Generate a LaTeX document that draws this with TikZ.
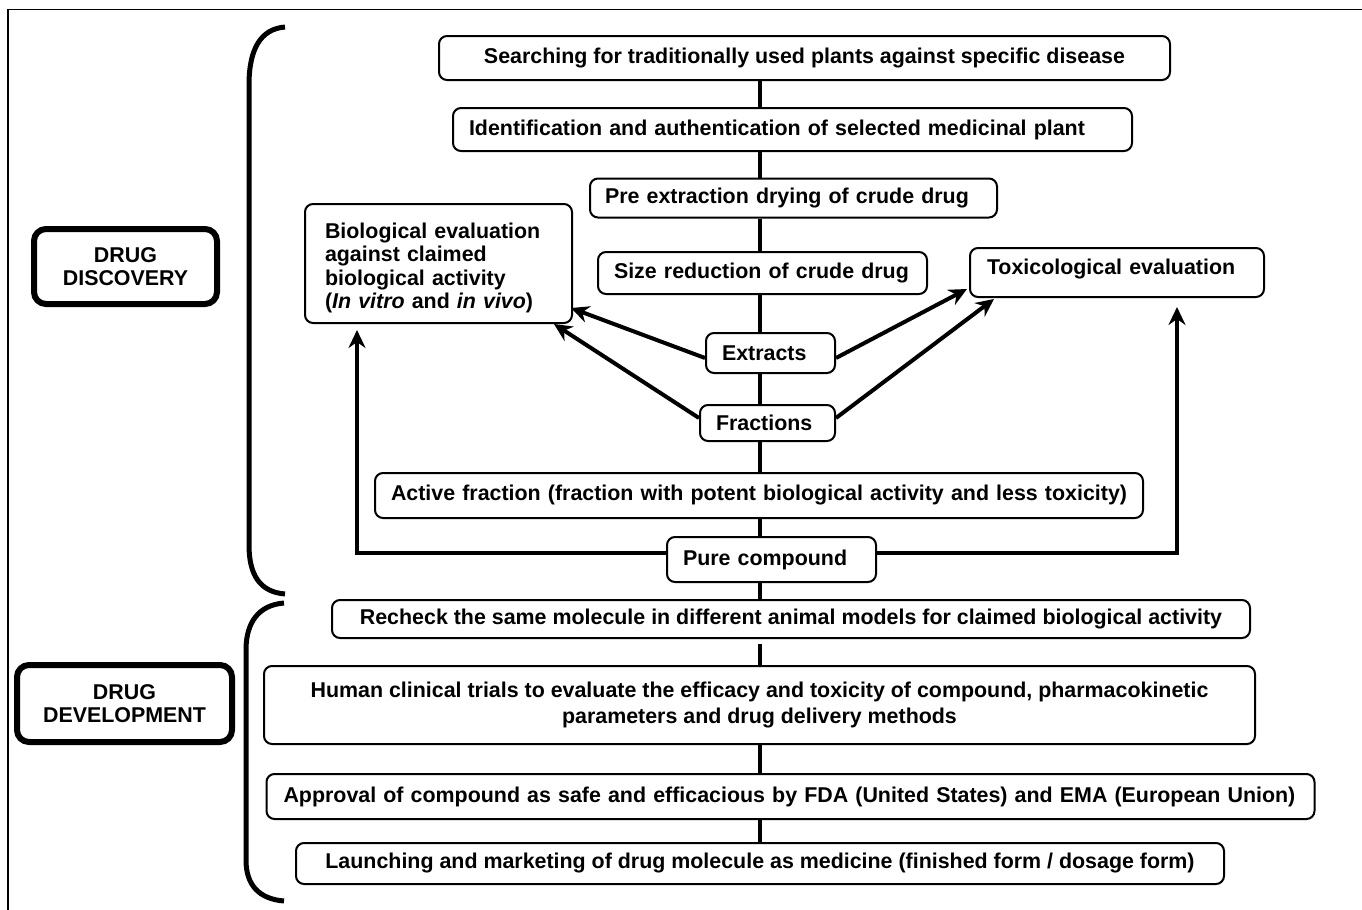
\documentclass[tikz,border=0pt]{standalone}
\usepackage{fontspec}
\setmainfont{Liberation Sans}
\usetikzlibrary{arrows.meta,calc}
\begin{document}
\begin{tikzpicture}[x=0.5pt,y=-0.5pt,
  font=\fontsize{10.7}{11.75}\selectfont\bfseries,
  box/.style={draw, line width=1pt, rounded corners=4pt, inner ysep=0pt, minimum height=#1},
  lbox/.style={box=#1, align=left},
  cbox/.style={box=#1, align=center, inner xsep=0pt},
  tbox/.style={draw, line width=3pt, rounded corners=6pt, align=center, inner sep=0pt},
  spine/.style={line width=1.7pt},
  arr/.style={line width=2pt, -{Stealth[length=9pt,width=8.5pt,inset=3pt]}},
  brace/.style={line width=2.5pt}]
\useasboundingbox (0,0) rectangle (1362,910);
% frame
\draw[line width=0.7pt] (8,910) -- (8,9.5) -- (1362,9.5);
% braces
\draw[brace] (285,27) .. controls (260,29) and (249,50) .. (249,85) -- (249,545) .. controls (249,575) and (260,592) .. (285,594);
\draw[brace] (284,603) .. controls (259,605) and (246,622) .. (246,650) -- (246,860) .. controls (246,885) and (259,899) .. (284,901);
% side labels
\node[tbox, minimum width=91.5pt, minimum height=37.5pt] (dd) at (125.5,266.5) {DRUG\\DISCOVERY};
\node[tbox, minimum width=107.5pt, minimum height=38.5pt] (dv) at (124.5,703.5) {DRUG\\DEVELOPMENT};
% main boxes
\node[cbox=22pt, minimum width=365.5pt] (s1) at (804.5,58) {Searching for traditionally used plants against specific disease};
\node[lbox=21.5pt, text width=323.5pt, inner xsep=8pt] (s2) at (792.5,129.5) {\mbox{Identification and authentication of selected medicinal plant}};
\node[lbox=19.5pt, text width=188.5pt, inner xsep=7.5pt] (s3) at (793.5,198) {\mbox{Pre extraction drying of crude drug}};
\node[lbox=21pt, text width=148.5pt, inner xsep=8pt] (s4) at (762.5,273) {\mbox{Size reduction of crude drug}};
\node[lbox=24.5pt, text width=130pt, inner xsep=8.5pt] (tox) at (1117,272.5) {\mbox{Toxicological evaluation}\rule[-6pt]{0pt}{0pt}};
\node[lbox=59.5pt, text width=113.5pt, inner xsep=10pt] (bio) at (438.5,263.5) {\rule{0pt}{12pt}Biological evaluation\\against claimed\\biological activity\\(\textit{In vitro} and \textit{in vivo})};
\node[lbox=20pt, text width=48.5pt, inner xsep=8pt] (ext) at (770.5,353) {\mbox{Extracts}};
\node[lbox=18pt, text width=51.5pt, inner xsep=8pt] (frac) at (767.5,423) {\mbox{Fractions}};
\node[lbox=22.5pt, text width=368pt, inner xsep=8pt] (act) at (759,495.5) {\mbox{Active fraction (fraction with potent biological activity and less toxicity)}};
\node[lbox=22.5pt, text width=88.5pt, inner xsep=8pt] (pure) at (771.5,559.5) {\mbox{Pure compound}};
\node[cbox=19pt, minimum width=459pt] (rech) at (791,619) {Recheck the same molecule in different animal models for claimed biological activity};
\node[cbox=39pt, minimum width=495.5pt, font=\fontsize{10.7}{13}\selectfont\bfseries] (hum) at (759.5,705) {Human clinical trials to evaluate the efficacy and toxicity of compound, pharmacokinetic\\parameters and drug delivery methods};
\node[lbox=22.5pt, text width=507pt, inner xsep=8.5pt] (appr) at (790.5,796.5) {\mbox{Approval of compound as safe and efficacious by FDA (United States) and EMA (European Union)}};
\node[cbox=20.5pt, minimum width=464pt] (laun) at (760,863.5) {Launching and marketing of drug molecule as medicine (finished form / dosage form)};
% spine
\coordinate (sp) at (760,0);
\draw[spine] (sp |- s1.south) -- (sp |- s2.north);
\draw[spine] (sp |- s2.south) -- (sp |- s3.north);
\draw[spine] (sp |- s3.south) -- (sp |- s4.north);
\draw[spine] (sp |- s4.south) -- (sp |- ext.north);
\draw[spine] (sp |- ext.south) -- (sp |- frac.north);
\draw[spine] (sp |- frac.south) -- (sp |- act.north);
\draw[spine] (sp |- act.south) -- (sp |- pure.north);
\draw[spine] (sp |- pure.south) -- (sp |- rech.north);
\draw[spine, shorten <=2.5pt] (sp |- rech.south) -- (sp |- hum.north);
\draw[spine] (sp |- hum.south) -- (sp |- appr.north);
\draw[spine] (sp |- appr.south) -- (sp |- laun.north);
% arrows from extracts / fractions
\draw[arr] ([yshift=-2.5pt]ext.west) -- ($(bio.south east)+(-2,-16)$);
\draw[arr] ([yshift=2.5pt]frac.west) -- ($(bio.south east)+(-19,0)$);
\draw[arr] ([yshift=-2.5pt]ext.east) -- ($(tox.south west)+(-2,-9)$);
\draw[arr] ([yshift=2.5pt]frac.east) -- ($(tox.south west)+(25,1)$);
% pure compound feedback
\coordinate (bt) at (357,330);
\coordinate (tt) at (1177,307);
\draw[arr] ([yshift=3.25pt]pure.west) -| (bt);
\draw[arr] ([yshift=3.25pt]pure.east) -| (tt);
\end{tikzpicture}
\end{document}
